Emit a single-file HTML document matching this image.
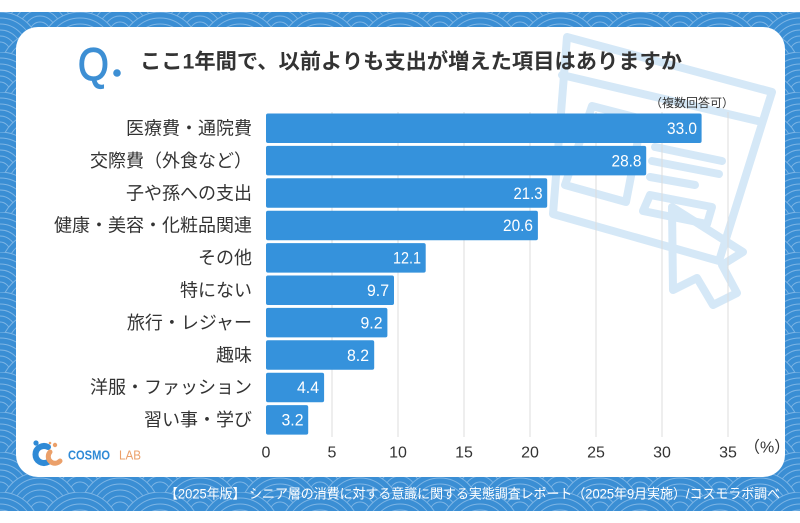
<!DOCTYPE html>
<html><head><meta charset="utf-8">
<style>
html,body{margin:0;padding:0;background:#fff;}
svg{display:block;}
.jp{font-family:"Liberation Sans","Noto Sans CJK JP",sans-serif;}
</style></head>
<body>
<svg width="800" height="523" viewBox="0 0 800 523" xmlns="http://www.w3.org/2000/svg">
<defs>
  <g id="sc">
    <circle r="40" fill="#3a8ed4" stroke="#7db5e5" stroke-width="1"/>
    <circle r="34" fill="none" stroke="#7db5e5" stroke-width="0.9"/>
    <circle r="28" fill="none" stroke="#7db5e5" stroke-width="0.9"/>
    <circle r="22" fill="none" stroke="#7db5e5" stroke-width="0.9"/>
    <circle r="16" fill="none" stroke="#7db5e5" stroke-width="0.9"/>
    <circle r="10" fill="none" stroke="#7db5e5" stroke-width="0.9"/>
  </g>
  <pattern id="sei" patternUnits="userSpaceOnUse" x="0" y="12" width="80" height="40">
    <rect width="80" height="40" fill="#3a8ed4"/>
    <use href="#sc" x="40" y="-20"/>
    <use href="#sc" x="0" y="0"/><use href="#sc" x="80" y="0"/>
    <use href="#sc" x="40" y="20"/>
    <use href="#sc" x="0" y="40"/><use href="#sc" x="80" y="40"/>
    <use href="#sc" x="40" y="60"/>
  </pattern>
</defs>

<rect x="0" y="0" width="800" height="523" fill="#fff"/>
<rect x="0" y="12" width="800" height="499" fill="url(#sei)"/>
<rect x="16" y="27" width="769" height="450" rx="22" ry="22" fill="#fff"/>

<!-- decoration -->
<g fill="none" stroke="#d5e8f7" stroke-width="8" stroke-linejoin="round" stroke-linecap="round">
  <polygon points="567,37 772,92 719,261 553,214"/>
  <line x1="562" y1="75" x2="762" y2="122"/>
  <polygon points="592,106 642,119 626,202 565,185"/>
  <line x1="655" y1="147" x2="722" y2="161"/>
  <line x1="652" y1="161" x2="719" y2="174"/>
  <line x1="650" y1="177" x2="695" y2="185"/>
  <polygon points="650,195 712,207 707,224 643,211"/>
  <polygon points="672,207 673,290 697,278 713,305 737,293 722,265 743,252"/>
</g>

<!-- gridlines -->
<g stroke="#dcdcdc" stroke-width="1">
  <line x1="332" y1="112" x2="332" y2="437"/>
  <line x1="398" y1="112" x2="398" y2="437"/>
  <line x1="464" y1="112" x2="464" y2="437"/>
  <line x1="530" y1="112" x2="530" y2="437"/>
  <line x1="596" y1="112" x2="596" y2="437"/>
  <line x1="662" y1="112" x2="662" y2="437"/>
  <line x1="728" y1="112" x2="728" y2="437"/>
</g>

<!-- title -->
<text x="78" y="80" fill="#3d8fd4" stroke="#3d8fd4" stroke-width="1.2" font-family="Liberation Sans, sans-serif" font-size="45" transform="translate(78,80) scale(0.88,1) translate(-78,-80)">Q</text>
<circle cx="117" cy="73" r="3.8" fill="#3d8fd4"/>
<text class="jp" x="140" y="62" dominant-baseline="central" font-size="21" font-weight="700" fill="#333" textLength="542" lengthAdjust="spacingAndGlyphs">ここ1年間で、以前よりも支出が増えた項目はありますか</text>

<text class="jp" x="650" y="103" dominant-baseline="central" font-size="12" fill="#333">（複数回答可）</text>

<!-- bars -->
<g fill="#3592dc">
  <rect x="266" y="113.5" width="435.6" height="29.5" rx="2"/>
  <rect x="266" y="145.9" width="380.2" height="29.5" rx="2"/>
  <rect x="266" y="178.3" width="281.2" height="29.5" rx="2"/>
  <rect x="266" y="210.7" width="271.9" height="29.5" rx="2"/>
  <rect x="266" y="243.1" width="159.7" height="29.5" rx="2"/>
  <rect x="266" y="275.5" width="128.0" height="29.5" rx="2"/>
  <rect x="266" y="307.9" width="121.4" height="29.5" rx="2"/>
  <rect x="266" y="340.3" width="108.2" height="29.5" rx="2"/>
  <rect x="266" y="372.7" width="58.1" height="29.5" rx="2"/>
  <rect x="266" y="405.1" width="42.2" height="29.5" rx="2"/>
</g>

<!-- value labels -->
<g fill="#fff" font-family="Liberation Sans, sans-serif" font-size="17" text-anchor="end" dominant-baseline="central" lengthAdjust="spacingAndGlyphs">
  <text x="697" y="128.5" textLength="30" lengthAdjust="spacingAndGlyphs">33.0</text>
  <text x="641.5" y="160.9" textLength="30" lengthAdjust="spacingAndGlyphs">28.8</text>
  <text x="542.5" y="193.3" textLength="29" lengthAdjust="spacingAndGlyphs">21.3</text>
  <text x="533" y="225.7" textLength="30" lengthAdjust="spacingAndGlyphs">20.6</text>
  <text x="421" y="258.1" textLength="28" lengthAdjust="spacingAndGlyphs">12.1</text>
  <text x="389" y="290.5" textLength="22" lengthAdjust="spacingAndGlyphs">9.7</text>
  <text x="382.5" y="322.9" textLength="22" lengthAdjust="spacingAndGlyphs">9.2</text>
  <text x="369" y="355.3" textLength="22" lengthAdjust="spacingAndGlyphs">8.2</text>
  <text x="319" y="387.7" textLength="22" lengthAdjust="spacingAndGlyphs">4.4</text>
  <text x="303.5" y="420.1" textLength="22" lengthAdjust="spacingAndGlyphs">3.2</text>
</g>

<!-- category labels -->
<g class="jp" fill="#333" font-size="18" text-anchor="end" dominant-baseline="central">
  <text x="252" y="128.5">医療費・通院費</text>
  <text x="252" y="160.9">交際費（外食など）</text>
  <text x="252" y="193.3">子や孫への支出</text>
  <text x="252" y="225.7">健康・美容・化粧品関連</text>
  <text x="252" y="258.1">その他</text>
  <text x="252" y="290.5">特にない</text>
  <text x="252" y="322.9">旅行・レジャー</text>
  <text x="252" y="355.3">趣味</text>
  <text x="252" y="387.7">洋服・ファッション</text>
  <text x="252" y="420.1">習い事・学び</text>
</g>

<!-- x axis ticks -->
<g fill="#333" font-family="Liberation Sans, sans-serif" font-size="16" text-anchor="middle" dominant-baseline="central">
  <text x="266" y="453">0</text>
  <text x="332" y="453">5</text>
  <text x="398" y="453">10</text>
  <text x="464" y="453">15</text>
  <text x="530" y="453">20</text>
  <text x="596" y="453">25</text>
  <text x="662" y="453">30</text>
  <text x="728" y="453">35</text>
</g>
<text class="jp" x="744" y="448" dominant-baseline="central" font-size="16" fill="#333">（%）</text>

<!-- logo -->
<g>
  <path d="M48,447 A8.5,8.5 0 1 0 48,462" fill="none" stroke="#2f8ad6" stroke-width="6" stroke-linecap="round"/>
  <circle cx="36" cy="443" r="2.6" fill="#2f8ad6"/>
  <path d="M50,452 A6,6 0 0 0 60,461" fill="none" stroke="#eba06a" stroke-width="5" stroke-linecap="round"/>
  <circle cx="55" cy="445" r="2.2" fill="#eba06a"/>
  <circle cx="50" cy="443" r="1.3" fill="#eba06a"/>
  <text x="68" y="455" dominant-baseline="central" font-family="Liberation Sans, sans-serif" font-size="13" font-weight="700" fill="#2f8ad6" textLength="42" lengthAdjust="spacingAndGlyphs">COSMO</text>
  <text x="119" y="455" dominant-baseline="central" font-family="Liberation Sans, sans-serif" font-size="13" fill="#eba06a" textLength="22" lengthAdjust="spacingAndGlyphs">LAB</text>
</g>

<!-- footer -->
<text class="jp" x="165" y="494" dominant-baseline="central" font-size="13.5" fill="#fff" textLength="615" lengthAdjust="spacingAndGlyphs">【2025年版】 シニア層の消費に対する意識に関する実態調査レポート（2025年9月実施）/コスモラボ調べ</text>
</svg>
</body></html>
